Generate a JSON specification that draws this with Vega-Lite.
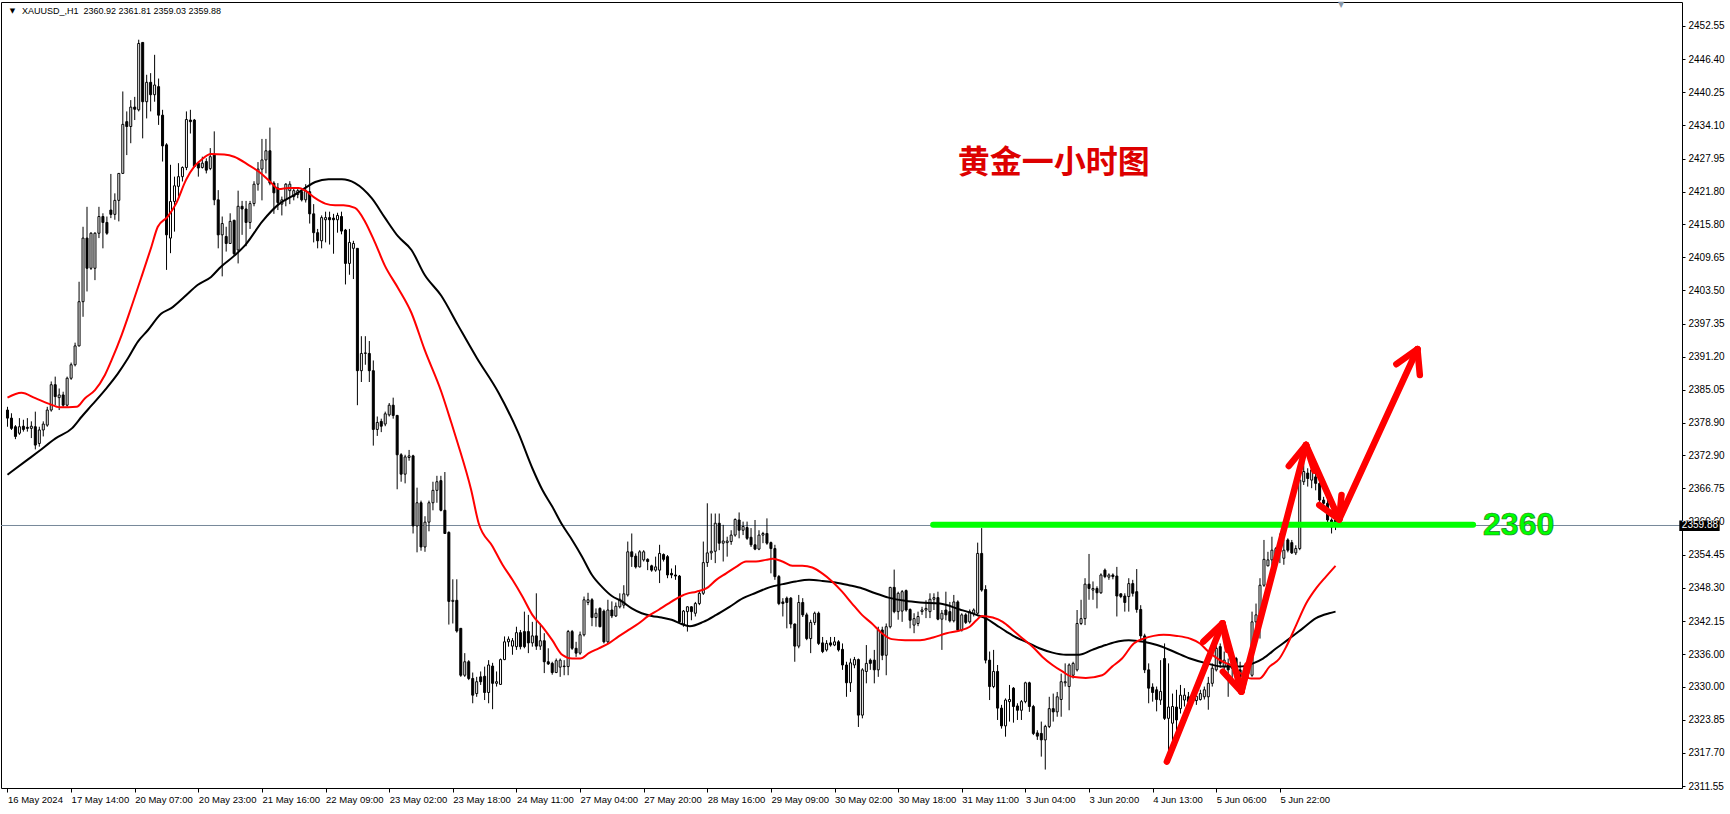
{
"$schema":"https://vega.github.io/schema/vega-lite/v6.json",
"width":1681,"height":786,
"autosize":{"type":"none"},
"padding":{"left":1,"top":2,"right":48,"bottom":26},
"background":"#ffffff",
"config":{"view":{"stroke":"#000000","strokeWidth":1},
"axis":{"labelFont":"Liberation Sans","labelColor":"#000000","tickColor":"#000000","domain":false,"grid":false}},
"resolve":{"axis":{"x":"independent","y":"independent"}},
"datasets":{
"candles":[
{"b":0,"o":2381.3,"h":2381.9,"l":2378.2,"c":2379.8},
{"b":1,"o":2379.8,"h":2380.7,"l":2377.6,"c":2377.9},
{"b":2,"o":2378.2,"h":2378.5,"l":2375.9,"c":2376.4},
{"b":3,"o":2377.0,"h":2379.8,"l":2376.7,"c":2378.2},
{"b":4,"o":2378.3,"h":2379.5,"l":2377.3,"c":2377.7},
{"b":5,"o":2378.1,"h":2379.8,"l":2377.3,"c":2377.9},
{"b":6,"o":2377.9,"h":2379.2,"l":2376.1,"c":2378.3},
{"b":7,"o":2378.2,"h":2381.0,"l":2374.0,"c":2374.8},
{"b":8,"o":2375.1,"h":2378.2,"l":2374.5,"c":2377.6},
{"b":9,"o":2377.6,"h":2379.2,"l":2376.4,"c":2378.7},
{"b":10,"o":2378.5,"h":2381.9,"l":2378.2,"c":2381.3},
{"b":11,"o":2381.3,"h":2386.6,"l":2381.0,"c":2386.0},
{"b":12,"o":2386.0,"h":2387.5,"l":2382.2,"c":2383.8},
{"b":13,"o":2383.6,"h":2385.3,"l":2381.3,"c":2384.1},
{"b":14,"o":2384.1,"h":2384.7,"l":2381.9,"c":2382.2},
{"b":15,"o":2382.2,"h":2387.5,"l":2381.9,"c":2387.2},
{"b":16,"o":2387.2,"h":2390.1,"l":2386.9,"c":2389.7},
{"b":17,"o":2389.7,"h":2393.8,"l":2389.4,"c":2393.2},
{"b":18,"o":2393.2,"h":2405.1,"l":2393.1,"c":2401.4},
{"b":19,"o":2401.4,"h":2415.3,"l":2398.6,"c":2413.2},
{"b":20,"o":2413.2,"h":2419.0,"l":2403.3,"c":2407.6},
{"b":21,"o":2407.6,"h":2414.3,"l":2407.3,"c":2414.1},
{"b":22,"o":2407.6,"h":2414.3,"l":2405.4,"c":2414.1},
{"b":23,"o":2414.1,"h":2419.0,"l":2413.2,"c":2417.2},
{"b":24,"o":2417.2,"h":2417.8,"l":2411.3,"c":2416.1},
{"b":25,"o":2416.1,"h":2417.2,"l":2413.8,"c":2414.1},
{"b":26,"o":2418.4,"h":2425.1,"l":2416.9,"c":2417.6},
{"b":27,"o":2417.6,"h":2421.5,"l":2416.6,"c":2420.2},
{"b":28,"o":2420.2,"h":2425.2,"l":2416.3,"c":2425.2},
{"b":29,"o":2425.2,"h":2440.4,"l":2425.2,"c":2434.3},
{"b":30,"o":2434.8,"h":2436.7,"l":2428.6,"c":2433.9},
{"b":31,"o":2433.9,"h":2438.8,"l":2430.8,"c":2437.5},
{"b":32,"o":2437.5,"h":2439.4,"l":2435.1,"c":2437.1},
{"b":33,"o":2437.0,"h":2450.0,"l":2436.7,"c":2449.3},
{"b":34,"o":2449.5,"h":2449.5,"l":2431.7,"c":2438.5},
{"b":35,"o":2438.5,"h":2443.5,"l":2435.4,"c":2442.1},
{"b":36,"o":2442.1,"h":2443.8,"l":2436.7,"c":2439.8},
{"b":37,"o":2439.8,"h":2447.2,"l":2438.5,"c":2441.6},
{"b":38,"o":2441.3,"h":2442.8,"l":2434.2,"c":2436.0},
{"b":39,"o":2436.0,"h":2437.0,"l":2427.4,"c":2430.3},
{"b":40,"o":2430.5,"h":2430.8,"l":2407.3,"c":2413.8},
{"b":41,"o":2413.2,"h":2426.8,"l":2410.4,"c":2420.0},
{"b":42,"o":2420.0,"h":2424.6,"l":2414.4,"c":2422.9},
{"b":43,"o":2422.8,"h":2427.1,"l":2420.9,"c":2424.6},
{"b":44,"o":2424.6,"h":2426.5,"l":2423.7,"c":2426.3},
{"b":45,"o":2426.3,"h":2436.7,"l":2425.8,"c":2435.2},
{"b":46,"o":2435.1,"h":2437.0,"l":2432.6,"c":2434.8},
{"b":47,"o":2435.1,"h":2435.3,"l":2426.3,"c":2426.5},
{"b":48,"o":2427.1,"h":2427.4,"l":2424.6,"c":2426.2},
{"b":49,"o":2426.3,"h":2428.3,"l":2426.1,"c":2427.1},
{"b":50,"o":2427.4,"h":2428.0,"l":2425.2,"c":2425.8},
{"b":51,"o":2426.1,"h":2429.9,"l":2425.8,"c":2428.3},
{"b":52,"o":2428.6,"h":2433.0,"l":2419.3,"c":2420.3},
{"b":53,"o":2420.3,"h":2422.1,"l":2411.3,"c":2413.8},
{"b":54,"o":2413.8,"h":2417.2,"l":2406.1,"c":2415.9},
{"b":55,"o":2413.5,"h":2415.3,"l":2410.7,"c":2412.2},
{"b":56,"o":2412.2,"h":2417.8,"l":2412.2,"c":2416.3},
{"b":57,"o":2416.5,"h":2416.6,"l":2409.9,"c":2410.3},
{"b":58,"o":2411.0,"h":2422.0,"l":2408.5,"c":2419.1},
{"b":59,"o":2419.1,"h":2420.1,"l":2413.8,"c":2418.6},
{"b":60,"o":2418.6,"h":2420.1,"l":2411.7,"c":2416.1},
{"b":61,"o":2416.1,"h":2420.1,"l":2414.9,"c":2419.6},
{"b":62,"o":2419.6,"h":2423.75,"l":2419.1,"c":2423.2},
{"b":63,"o":2423.2,"h":2427.3,"l":2422.0,"c":2426.0},
{"b":64,"o":2426.0,"h":2431.6,"l":2420.2,"c":2427.7},
{"b":65,"o":2427.7,"h":2431.6,"l":2425.2,"c":2429.4},
{"b":66,"o":2429.4,"h":2433.7,"l":2423.0,"c":2423.4},
{"b":67,"o":2423.4,"h":2423.75,"l":2417.7,"c":2421.6},
{"b":68,"o":2422.5,"h":2423.4,"l":2418.4,"c":2419.8},
{"b":69,"o":2419.5,"h":2420.9,"l":2417.4,"c":2420.3},
{"b":70,"o":2420.3,"h":2423.4,"l":2419.1,"c":2423.2},
{"b":71,"o":2422.0,"h":2423.75,"l":2419.5,"c":2423.2},
{"b":72,"o":2420.9,"h":2422.5,"l":2420.2,"c":2422.0},
{"b":73,"o":2421.3,"h":2422.3,"l":2420.6,"c":2422.0},
{"b":74,"o":2421.8,"h":2422.3,"l":2420.0,"c":2420.3},
{"b":75,"o":2420.3,"h":2423.2,"l":2419.8,"c":2422.0},
{"b":76,"o":2421.8,"h":2426.2,"l":2415.9,"c":2417.7},
{"b":77,"o":2417.7,"h":2419.5,"l":2412.4,"c":2414.2},
{"b":78,"o":2414.2,"h":2414.9,"l":2411.3,"c":2412.7},
{"b":79,"o":2412.7,"h":2417.4,"l":2411.3,"c":2417.0},
{"b":80,"o":2416.6,"h":2418.1,"l":2412.4,"c":2417.0},
{"b":81,"o":2417.0,"h":2418.1,"l":2412.0,"c":2416.6},
{"b":82,"o":2416.9,"h":2417.7,"l":2410.3,"c":2416.6},
{"b":83,"o":2416.6,"h":2417.9,"l":2414.2,"c":2417.4},
{"b":84,"o":2417.2,"h":2418.1,"l":2413.9,"c":2414.5},
{"b":85,"o":2414.7,"h":2414.9,"l":2404.6,"c":2408.5},
{"b":86,"o":2408.5,"h":2414.9,"l":2406.4,"c":2412.4},
{"b":87,"o":2411.3,"h":2412.7,"l":2405.6,"c":2412.2},
{"b":88,"o":2411.3,"h":2411.3,"l":2382.2,"c":2388.6},
{"b":89,"o":2388.6,"h":2395.0,"l":2386.5,"c":2391.8},
{"b":90,"o":2391.8,"h":2395.0,"l":2389.7,"c":2391.9},
{"b":91,"o":2391.8,"h":2394.1,"l":2386.5,"c":2388.6},
{"b":92,"o":2388.6,"h":2390.5,"l":2374.7,"c":2377.7},
{"b":93,"o":2377.7,"h":2380.1,"l":2376.5,"c":2379.0},
{"b":94,"o":2379.2,"h":2379.7,"l":2377.2,"c":2378.3},
{"b":95,"o":2378.7,"h":2381.0,"l":2378.3,"c":2380.6},
{"b":96,"o":2380.4,"h":2382.6,"l":2380.1,"c":2382.2},
{"b":97,"o":2382.2,"h":2383.6,"l":2379.7,"c":2380.3},
{"b":98,"o":2380.3,"h":2380.4,"l":2366.6,"c":2373.0},
{"b":99,"o":2373.0,"h":2373.3,"l":2368.0,"c":2369.4},
{"b":100,"o":2369.4,"h":2373.0,"l":2367.7,"c":2372.6},
{"b":101,"o":2372.5,"h":2373.9,"l":2371.9,"c":2372.8},
{"b":102,"o":2372.8,"h":2373.0,"l":2358.4,"c":2359.8},
{"b":103,"o":2359.8,"h":2366.9,"l":2354.9,"c":2364.1},
{"b":104,"o":2364.1,"h":2364.5,"l":2355.2,"c":2355.9},
{"b":105,"o":2355.9,"h":2361.6,"l":2355.0,"c":2360.5},
{"b":106,"o":2360.5,"h":2364.5,"l":2358.8,"c":2364.1},
{"b":107,"o":2364.1,"h":2368.0,"l":2362.7,"c":2366.4},
{"b":108,"o":2366.4,"h":2369.1,"l":2364.1,"c":2368.0},
{"b":109,"o":2368.2,"h":2369.1,"l":2362.5,"c":2362.7},
{"b":110,"o":2362.7,"h":2369.8,"l":2358.3,"c":2358.4},
{"b":111,"o":2358.6,"h":2358.8,"l":2341.5,"c":2345.8},
{"b":112,"o":2345.8,"h":2349.9,"l":2341.7,"c":2346.0},
{"b":113,"o":2346.0,"h":2349.9,"l":2340.0,"c":2340.3},
{"b":114,"o":2340.8,"h":2340.8,"l":2331.8,"c":2332.1},
{"b":115,"o":2332.1,"h":2336.2,"l":2331.8,"c":2334.6},
{"b":116,"o":2334.6,"h":2334.9,"l":2331.2,"c":2331.5},
{"b":117,"o":2331.5,"h":2332.6,"l":2326.9,"c":2328.4},
{"b":118,"o":2328.7,"h":2331.8,"l":2328.1,"c":2330.9},
{"b":119,"o":2331.8,"h":2332.8,"l":2330.3,"c":2330.9},
{"b":120,"o":2331.9,"h":2333.7,"l":2327.5,"c":2328.9},
{"b":121,"o":2328.9,"h":2334.9,"l":2326.9,"c":2334.0},
{"b":122,"o":2333.8,"h":2334.4,"l":2325.8,"c":2330.6},
{"b":123,"o":2330.6,"h":2332.8,"l":2330.0,"c":2330.9},
{"b":124,"o":2330.4,"h":2335.2,"l":2330.3,"c":2335.0},
{"b":125,"o":2335.0,"h":2339.3,"l":2334.9,"c":2338.3},
{"b":126,"o":2338.3,"h":2339.3,"l":2337.4,"c":2338.8},
{"b":127,"o":2337.5,"h":2339.0,"l":2335.9,"c":2338.5},
{"b":128,"o":2337.4,"h":2341.1,"l":2336.8,"c":2340.0},
{"b":129,"o":2340.0,"h":2340.5,"l":2336.9,"c":2337.4},
{"b":130,"o":2340.2,"h":2343.9,"l":2337.1,"c":2337.4},
{"b":131,"o":2340.2,"h":2343.3,"l":2336.2,"c":2338.1},
{"b":132,"o":2338.1,"h":2342.0,"l":2337.4,"c":2339.4},
{"b":133,"o":2339.4,"h":2347.3,"l":2336.8,"c":2337.5},
{"b":134,"o":2337.5,"h":2341.7,"l":2336.8,"c":2338.5},
{"b":135,"o":2338.5,"h":2339.9,"l":2332.5,"c":2334.6},
{"b":136,"o":2334.6,"h":2337.1,"l":2334.0,"c":2334.2},
{"b":137,"o":2334.3,"h":2334.6,"l":2332.2,"c":2332.6},
{"b":138,"o":2332.6,"h":2335.2,"l":2332.5,"c":2334.8},
{"b":139,"o":2333.6,"h":2335.2,"l":2331.8,"c":2334.9},
{"b":140,"o":2333.8,"h":2334.9,"l":2332.1,"c":2333.7},
{"b":141,"o":2333.7,"h":2340.5,"l":2332.1,"c":2340.2},
{"b":142,"o":2340.2,"h":2340.5,"l":2336.8,"c":2337.1},
{"b":143,"o":2337.1,"h":2338.3,"l":2335.5,"c":2336.2},
{"b":144,"o":2336.2,"h":2340.2,"l":2335.9,"c":2339.6},
{"b":145,"o":2339.6,"h":2346.7,"l":2339.3,"c":2346.1},
{"b":146,"o":2345.6,"h":2347.4,"l":2345.1,"c":2346.1},
{"b":147,"o":2346.1,"h":2346.4,"l":2341.2,"c":2342.8},
{"b":148,"o":2342.8,"h":2344.5,"l":2341.1,"c":2343.6},
{"b":149,"o":2344.5,"h":2344.7,"l":2341.0,"c":2341.1},
{"b":150,"o":2344.0,"h":2344.3,"l":2338.0,"c":2338.3},
{"b":151,"o":2338.3,"h":2346.1,"l":2338.0,"c":2344.2},
{"b":152,"o":2344.2,"h":2345.8,"l":2342.7,"c":2343.1},
{"b":153,"o":2343.1,"h":2345.6,"l":2342.9,"c":2344.9},
{"b":154,"o":2344.8,"h":2347.3,"l":2344.5,"c":2346.2},
{"b":155,"o":2345.1,"h":2348.8,"l":2344.5,"c":2347.2},
{"b":156,"o":2347.0,"h":2356.9,"l":2346.7,"c":2355.0},
{"b":157,"o":2355.0,"h":2358.4,"l":2352.2,"c":2354.1},
{"b":158,"o":2354.2,"h":2354.7,"l":2351.9,"c":2352.2},
{"b":159,"o":2352.2,"h":2355.3,"l":2352.1,"c":2355.0},
{"b":160,"o":2353.5,"h":2355.3,"l":2353.2,"c":2355.0},
{"b":161,"o":2353.6,"h":2353.8,"l":2351.6,"c":2353.2},
{"b":162,"o":2352.4,"h":2352.6,"l":2351.3,"c":2351.6},
{"b":163,"o":2351.6,"h":2354.1,"l":2351.3,"c":2352.2},
{"b":164,"o":2351.6,"h":2356.3,"l":2349.2,"c":2354.7},
{"b":165,"o":2354.5,"h":2354.7,"l":2353.2,"c":2353.6},
{"b":166,"o":2354.1,"h":2354.4,"l":2350.1,"c":2350.7},
{"b":167,"o":2351.0,"h":2351.9,"l":2350.1,"c":2350.7},
{"b":168,"o":2350.7,"h":2352.5,"l":2349.8,"c":2350.5},
{"b":169,"o":2350.5,"h":2350.7,"l":2341.7,"c":2342.0},
{"b":170,"o":2341.6,"h":2344.2,"l":2341.1,"c":2344.0},
{"b":171,"o":2343.9,"h":2344.9,"l":2340.2,"c":2344.8},
{"b":172,"o":2344.8,"h":2344.9,"l":2342.3,"c":2343.9},
{"b":173,"o":2343.6,"h":2345.7,"l":2343.0,"c":2345.4},
{"b":174,"o":2345.4,"h":2347.9,"l":2345.1,"c":2347.3},
{"b":175,"o":2347.3,"h":2356.9,"l":2347.0,"c":2353.0},
{"b":176,"o":2353.0,"h":2364.0,"l":2352.2,"c":2354.8},
{"b":177,"o":2354.8,"h":2362.1,"l":2353.5,"c":2355.1},
{"b":178,"o":2355.1,"h":2362.1,"l":2352.9,"c":2360.3},
{"b":179,"o":2360.3,"h":2362.1,"l":2355.3,"c":2356.6},
{"b":180,"o":2356.6,"h":2360.0,"l":2353.2,"c":2357.0},
{"b":181,"o":2356.7,"h":2357.8,"l":2354.1,"c":2357.0},
{"b":182,"o":2356.9,"h":2359.0,"l":2356.3,"c":2358.1},
{"b":183,"o":2358.1,"h":2361.2,"l":2357.8,"c":2361.0},
{"b":184,"o":2360.9,"h":2362.3,"l":2357.5,"c":2359.0},
{"b":185,"o":2359.0,"h":2360.6,"l":2358.1,"c":2359.7},
{"b":186,"o":2359.5,"h":2360.6,"l":2357.2,"c":2357.5},
{"b":187,"o":2357.7,"h":2359.4,"l":2355.9,"c":2356.3},
{"b":188,"o":2356.3,"h":2360.9,"l":2355.3,"c":2355.5},
{"b":189,"o":2355.5,"h":2359.0,"l":2355.3,"c":2358.1},
{"b":190,"o":2358.1,"h":2358.7,"l":2356.6,"c":2358.4},
{"b":191,"o":2358.4,"h":2361.2,"l":2356.3,"c":2356.6},
{"b":192,"o":2356.7,"h":2356.9,"l":2351.0,"c":2355.6},
{"b":193,"o":2355.6,"h":2356.3,"l":2349.8,"c":2350.4},
{"b":194,"o":2350.4,"h":2350.7,"l":2345.1,"c":2345.4},
{"b":195,"o":2345.7,"h":2346.4,"l":2343.0,"c":2345.4},
{"b":196,"o":2346.4,"h":2346.7,"l":2340.8,"c":2345.6},
{"b":197,"o":2346.4,"h":2346.6,"l":2340.8,"c":2341.6},
{"b":198,"o":2341.6,"h":2341.7,"l":2334.6,"c":2337.5},
{"b":199,"o":2337.5,"h":2347.0,"l":2337.1,"c":2345.6},
{"b":200,"o":2345.6,"h":2346.4,"l":2342.9,"c":2343.3},
{"b":201,"o":2343.3,"h":2343.7,"l":2338.6,"c":2338.9},
{"b":202,"o":2338.9,"h":2342.4,"l":2336.2,"c":2341.9},
{"b":203,"o":2341.9,"h":2343.9,"l":2341.4,"c":2343.6},
{"b":204,"o":2343.6,"h":2343.9,"l":2337.7,"c":2338.0},
{"b":205,"o":2338.1,"h":2339.2,"l":2336.2,"c":2336.5},
{"b":206,"o":2336.8,"h":2338.6,"l":2336.5,"c":2338.0},
{"b":207,"o":2338.1,"h":2339.2,"l":2337.4,"c":2337.7},
{"b":208,"o":2337.7,"h":2339.2,"l":2337.5,"c":2338.3},
{"b":209,"o":2338.3,"h":2338.6,"l":2336.5,"c":2336.8},
{"b":210,"o":2336.9,"h":2338.0,"l":2333.1,"c":2334.0},
{"b":211,"o":2334.0,"h":2334.6,"l":2328.1,"c":2330.7},
{"b":212,"o":2330.7,"h":2335.2,"l":2329.0,"c":2334.4},
{"b":213,"o":2334.0,"h":2335.5,"l":2333.4,"c":2335.0},
{"b":214,"o":2335.0,"h":2335.2,"l":2322.5,"c":2324.7},
{"b":215,"o":2324.7,"h":2333.4,"l":2324.1,"c":2333.1},
{"b":216,"o":2332.8,"h":2337.7,"l":2330.6,"c":2334.3},
{"b":217,"o":2334.9,"h":2335.2,"l":2333.1,"c":2334.3},
{"b":218,"o":2334.9,"h":2336.8,"l":2330.6,"c":2333.1},
{"b":219,"o":2333.1,"h":2341.1,"l":2331.8,"c":2340.5},
{"b":220,"o":2340.5,"h":2341.1,"l":2334.9,"c":2335.8},
{"b":221,"o":2335.8,"h":2341.7,"l":2332.1,"c":2341.1},
{"b":222,"o":2341.1,"h":2348.5,"l":2340.8,"c":2348.4},
{"b":223,"o":2348.4,"h":2351.7,"l":2343.6,"c":2343.9},
{"b":224,"o":2343.9,"h":2347.6,"l":2342.4,"c":2347.3},
{"b":225,"o":2344.0,"h":2347.9,"l":2342.0,"c":2347.6},
{"b":226,"o":2347.8,"h":2348.0,"l":2343.9,"c":2344.2},
{"b":227,"o":2344.3,"h":2344.5,"l":2340.8,"c":2342.3},
{"b":228,"o":2341.4,"h":2343.6,"l":2339.9,"c":2342.6},
{"b":229,"o":2341.7,"h":2343.9,"l":2341.2,"c":2343.0},
{"b":230,"o":2343.9,"h":2344.8,"l":2343.3,"c":2344.2},
{"b":231,"o":2344.2,"h":2346.0,"l":2342.7,"c":2344.5},
{"b":232,"o":2343.9,"h":2347.3,"l":2342.7,"c":2346.2},
{"b":233,"o":2346.2,"h":2347.3,"l":2344.2,"c":2346.5},
{"b":234,"o":2346.5,"h":2347.6,"l":2342.3,"c":2342.5},
{"b":235,"o":2342.5,"h":2344.2,"l":2336.8,"c":2343.6},
{"b":236,"o":2344.2,"h":2347.6,"l":2342.3,"c":2343.3},
{"b":237,"o":2343.9,"h":2345.7,"l":2341.9,"c":2342.2},
{"b":238,"o":2342.2,"h":2347.0,"l":2341.9,"c":2345.7},
{"b":239,"o":2345.7,"h":2346.0,"l":2340.2,"c":2340.5},
{"b":240,"o":2340.5,"h":2343.6,"l":2340.2,"c":2343.3},
{"b":241,"o":2343.3,"h":2343.6,"l":2341.6,"c":2341.9},
{"b":242,"o":2342.0,"h":2344.3,"l":2341.7,"c":2343.9},
{"b":243,"o":2343.6,"h":2344.5,"l":2343.0,"c":2344.2},
{"b":244,"o":2343.6,"h":2356.7,"l":2343.3,"c":2354.7},
{"b":245,"o":2354.7,"h":2359.4,"l":2347.6,"c":2347.9},
{"b":246,"o":2348.0,"h":2348.8,"l":2334.3,"c":2334.9},
{"b":247,"o":2334.9,"h":2336.5,"l":2327.5,"c":2330.0},
{"b":248,"o":2330.0,"h":2336.8,"l":2329.7,"c":2332.8},
{"b":249,"o":2332.8,"h":2334.0,"l":2323.8,"c":2326.0},
{"b":250,"o":2326.0,"h":2326.6,"l":2322.2,"c":2322.7},
{"b":251,"o":2322.7,"h":2327.8,"l":2320.7,"c":2327.5},
{"b":252,"o":2327.2,"h":2330.3,"l":2323.5,"c":2327.6},
{"b":253,"o":2329.7,"h":2329.9,"l":2323.3,"c":2326.3},
{"b":254,"o":2326.4,"h":2326.9,"l":2323.8,"c":2325.6},
{"b":255,"o":2325.6,"h":2327.5,"l":2323.8,"c":2327.2},
{"b":256,"o":2327.2,"h":2330.9,"l":2326.9,"c":2330.7},
{"b":257,"o":2330.7,"h":2330.9,"l":2325.3,"c":2326.3},
{"b":258,"o":2326.3,"h":2326.6,"l":2321.0,"c":2321.3},
{"b":259,"o":2321.4,"h":2321.9,"l":2320.1,"c":2320.8},
{"b":260,"o":2321.3,"h":2323.5,"l":2317.0,"c":2320.1},
{"b":261,"o":2320.1,"h":2322.9,"l":2314.6,"c":2322.6},
{"b":262,"o":2322.6,"h":2328.1,"l":2322.3,"c":2325.9},
{"b":263,"o":2325.9,"h":2328.7,"l":2323.5,"c":2325.3},
{"b":264,"o":2325.3,"h":2329.0,"l":2324.4,"c":2328.1},
{"b":265,"o":2327.6,"h":2332.4,"l":2324.4,"c":2330.9},
{"b":266,"o":2330.7,"h":2334.3,"l":2330.0,"c":2330.9},
{"b":267,"o":2330.0,"h":2334.3,"l":2325.6,"c":2334.0},
{"b":268,"o":2332.1,"h":2334.6,"l":2331.5,"c":2334.3},
{"b":269,"o":2333.1,"h":2344.2,"l":2332.8,"c":2341.7},
{"b":270,"o":2341.7,"h":2346.1,"l":2341.4,"c":2342.6},
{"b":271,"o":2342.6,"h":2350.1,"l":2341.4,"c":2349.0},
{"b":272,"o":2349.0,"h":2354.6,"l":2346.1,"c":2348.2},
{"b":273,"o":2347.9,"h":2349.5,"l":2346.1,"c":2348.2},
{"b":274,"o":2348.2,"h":2348.6,"l":2344.5,"c":2347.4},
{"b":275,"o":2347.4,"h":2351.0,"l":2347.2,"c":2350.7},
{"b":276,"o":2351.6,"h":2351.9,"l":2350.1,"c":2350.4},
{"b":277,"o":2350.3,"h":2351.0,"l":2349.8,"c":2350.7},
{"b":278,"o":2350.7,"h":2351.0,"l":2349.9,"c":2350.4},
{"b":279,"o":2350.5,"h":2352.2,"l":2343.0,"c":2346.8},
{"b":280,"o":2347.2,"h":2347.3,"l":2346.4,"c":2346.7},
{"b":281,"o":2346.8,"h":2347.3,"l":2343.9,"c":2345.6},
{"b":282,"o":2346.7,"h":2350.1,"l":2343.9,"c":2349.1},
{"b":283,"o":2349.1,"h":2349.8,"l":2346.7,"c":2347.3},
{"b":284,"o":2347.6,"h":2351.8,"l":2343.7,"c":2344.3},
{"b":285,"o":2344.3,"h":2345.1,"l":2338.6,"c":2339.4},
{"b":286,"o":2339.4,"h":2339.8,"l":2332.5,"c":2333.1},
{"b":287,"o":2333.1,"h":2334.3,"l":2326.9,"c":2329.7},
{"b":288,"o":2329.9,"h":2330.6,"l":2327.2,"c":2328.9},
{"b":289,"o":2329.4,"h":2330.0,"l":2325.4,"c":2327.6},
{"b":290,"o":2327.5,"h":2334.9,"l":2326.6,"c":2329.1},
{"b":291,"o":2335.2,"h":2338.0,"l":2323.8,"c":2324.1},
{"b":292,"o":2324.1,"h":2334.3,"l":2317.3,"c":2326.2},
{"b":293,"o":2323.2,"h":2328.7,"l":2318.2,"c":2326.3},
{"b":294,"o":2326.2,"h":2329.4,"l":2321.9,"c":2323.8},
{"b":295,"o":2325.9,"h":2330.3,"l":2325.0,"c":2328.4},
{"b":296,"o":2327.5,"h":2329.7,"l":2326.3,"c":2328.4},
{"b":297,"o":2328.1,"h":2329.0,"l":2326.9,"c":2327.2},
{"b":298,"o":2328.1,"h":2328.7,"l":2327.2,"c":2327.5},
{"b":299,"o":2327.4,"h":2329.7,"l":2326.6,"c":2328.2},
{"b":300,"o":2327.6,"h":2329.4,"l":2327.4,"c":2328.7},
{"b":301,"o":2328.1,"h":2330.0,"l":2327.6,"c":2329.4},
{"b":302,"o":2328.1,"h":2331.8,"l":2325.7,"c":2330.6},
{"b":303,"o":2330.6,"h":2334.3,"l":2330.0,"c":2333.4},
{"b":304,"o":2333.1,"h":2337.7,"l":2332.8,"c":2337.1},
{"b":305,"o":2337.4,"h":2338.0,"l":2333.5,"c":2334.3},
{"b":306,"o":2333.7,"h":2336.5,"l":2333.0,"c":2334.9},
{"b":307,"o":2334.3,"h":2335.2,"l":2328.1,"c":2333.1},
{"b":308,"o":2333.4,"h":2335.2,"l":2330.6,"c":2334.3},
{"b":309,"o":2335.2,"h":2335.5,"l":2330.3,"c":2333.1},
{"b":310,"o":2333.1,"h":2334.6,"l":2329.7,"c":2331.8},
{"b":311,"o":2331.8,"h":2333.7,"l":2330.0,"c":2333.0},
{"b":312,"o":2332.4,"h":2335.2,"l":2331.5,"c":2334.3},
{"b":313,"o":2332.1,"h":2343.9,"l":2331.8,"c":2342.0},
{"b":314,"o":2342.0,"h":2345.4,"l":2337.7,"c":2343.3},
{"b":315,"o":2343.3,"h":2350.1,"l":2338.9,"c":2348.8},
{"b":316,"o":2348.8,"h":2357.2,"l":2348.5,"c":2353.6},
{"b":317,"o":2352.4,"h":2355.0,"l":2352.3,"c":2353.5},
{"b":318,"o":2353.5,"h":2357.8,"l":2352.4,"c":2355.3},
{"b":319,"o":2354.1,"h":2355.9,"l":2353.5,"c":2355.6},
{"b":320,"o":2355.0,"h":2358.4,"l":2352.9,"c":2357.2},
{"b":321,"o":2353.8,"h":2357.3,"l":2352.6,"c":2355.3},
{"b":322,"o":2357.2,"h":2357.5,"l":2354.9,"c":2355.3},
{"b":323,"o":2356.7,"h":2357.2,"l":2354.6,"c":2354.8},
{"b":324,"o":2354.8,"h":2356.2,"l":2354.4,"c":2355.6},
{"b":325,"o":2355.6,"h":2368.9,"l":2355.3,"c":2368.3},
{"b":326,"o":2368.0,"h":2371.6,"l":2367.4,"c":2369.9},
{"b":327,"o":2369.6,"h":2370.5,"l":2367.1,"c":2368.6},
{"b":328,"o":2368.3,"h":2370.5,"l":2366.8,"c":2370.2},
{"b":329,"o":2368.9,"h":2370.0,"l":2366.4,"c":2367.7},
{"b":330,"o":2367.7,"h":2368.3,"l":2363.8,"c":2364.6},
{"b":331,"o":2364.6,"h":2365.2,"l":2362.9,"c":2364.0},
{"b":332,"o":2364.0,"h":2364.6,"l":2359.6,"c":2360.9},
{"b":333,"o":2360.9,"h":2361.2,"l":2358.4,"c":2359.6},
{"b":334,"o":2360.92,"h":2361.81,"l":2359.03,"c":2359.88}
],
"ma":[
{"s":"k","b":0,"v":2369.3},{"s":"k","b":4.9,"v":2372.0},{"s":"k","b":7.8,"v":2373.6},{"s":"k","b":12,"v":2376.0},{"s":"k","b":16.2,"v":2377.9},{"s":"k","b":18.7,"v":2380.1},{"s":"k","b":21.2,"v":2382.2},{"s":"k","b":24.5,"v":2385.0},{"s":"k","b":27.8,"v":2388.1},{"s":"k","b":30.3,"v":2390.9},{"s":"k","b":32.8,"v":2394.0},{"s":"k","b":35.3,"v":2396.1},{"s":"k","b":38.7,"v":2399.2},{"s":"k","b":41.2,"v":2400.2},{"s":"k","b":44.5,"v":2402.3},{"s":"k","b":47.8,"v":2404.5},{"s":"k","b":51.2,"v":2406.0},{"s":"k","b":53.7,"v":2407.9},{"s":"k","b":57,"v":2409.9},{"s":"k","b":59.9,"v":2412.0},{"s":"k","b":64.1,"v":2416.3},{"s":"k","b":68.25,"v":2419.5},{"s":"k","b":72.4,"v":2421.3},{"s":"k","b":74.9,"v":2422.5},{"s":"k","b":77.4,"v":2423.6},{"s":"k","b":80.75,"v":2424.1},{"s":"k","b":84.1,"v":2424.1},{"s":"k","b":87.4,"v":2423.4},{"s":"k","b":91.6,"v":2420.6},{"s":"k","b":94.9,"v":2417.0},{"s":"k","b":98.25,"v":2413.5},{"s":"k","b":101.6,"v":2411.0},{"s":"k","b":104.9,"v":2406.4},{"s":"k","b":109.1,"v":2402.5},{"s":"k","b":113.25,"v":2397.1},{"s":"k","b":118,"v":2391.0},{"s":"k","b":123.5,"v":2384.5},{"s":"k","b":128.5,"v":2377.0},{"s":"k","b":132,"v":2370.5},{"s":"k","b":134.5,"v":2366.5},{"s":"k","b":137,"v":2363.4},{"s":"k","b":139.5,"v":2360.0},{"s":"k","b":142,"v":2357.2},{"s":"k","b":144.5,"v":2354.1},{"s":"k","b":147,"v":2350.7},{"s":"k","b":149.5,"v":2348.5},{"s":"k","b":152,"v":2346.8},{"s":"k","b":154.5,"v":2345.8},{"s":"k","b":157,"v":2344.5},{"s":"k","b":159.5,"v":2343.6},{"s":"k","b":162,"v":2343.1},{"s":"k","b":164.5,"v":2342.8},{"s":"k","b":167,"v":2342.4},{"s":"k","b":169.5,"v":2341.6},{"s":"k","b":171.6,"v":2341.2},{"s":"k","b":175,"v":2342.0},{"s":"k","b":178.25,"v":2343.3},{"s":"k","b":181.6,"v":2344.8},{"s":"k","b":185,"v":2346.4},{"s":"k","b":188.25,"v":2347.4},{"s":"k","b":191.6,"v":2348.4},{"s":"k","b":195,"v":2349.0},{"s":"k","b":198.25,"v":2349.5},{"s":"k","b":201.6,"v":2349.8},{"s":"k","b":205,"v":2349.6},{"s":"k","b":208.25,"v":2349.3},{"s":"k","b":211.6,"v":2348.8},{"s":"k","b":215,"v":2348.2},{"s":"k","b":218.25,"v":2347.3},{"s":"k","b":221.6,"v":2346.5},{"s":"k","b":225.75,"v":2345.9},{"s":"k","b":229.5,"v":2345.6},{"s":"k","b":234.5,"v":2345.4},{"s":"k","b":239.5,"v":2344.3},{"s":"k","b":243.7,"v":2343.3},{"s":"k","b":246.2,"v":2342.6},{"s":"k","b":248.7,"v":2341.4},{"s":"k","b":251.2,"v":2340.2},{"s":"k","b":253.7,"v":2339.1},{"s":"k","b":256.2,"v":2338.3},{"s":"k","b":259.5,"v":2337.1},{"s":"k","b":262.8,"v":2336.3},{"s":"k","b":266.2,"v":2335.9},{"s":"k","b":269.5,"v":2335.9},{"s":"k","b":272.8,"v":2336.8},{"s":"k","b":276.2,"v":2337.7},{"s":"k","b":279.5,"v":2338.4},{"s":"k","b":282,"v":2338.6},{"s":"k","b":285.75,"v":2338.3},{"s":"k","b":289.1,"v":2337.7},{"s":"k","b":293.25,"v":2336.5},{"s":"k","b":297.4,"v":2335.2},{"s":"k","b":301.6,"v":2334.3},{"s":"k","b":305.75,"v":2333.7},{"s":"k","b":309.9,"v":2333.7},{"s":"k","b":313.25,"v":2334.3},{"s":"k","b":315.75,"v":2335.2},{"s":"k","b":319.1,"v":2337.1},{"s":"k","b":322.4,"v":2338.9},{"s":"k","b":325.75,"v":2340.8},{"s":"k","b":329.1,"v":2342.7},{"s":"k","b":332.4,"v":2343.6},{"s":"k","b":334,"v":2343.9},
{"s":"r","b":0,"v":2383.6},{"s":"r","b":3.5,"v":2384.5},{"s":"r","b":7,"v":2383.5},{"s":"r","b":10.3,"v":2382.5},{"s":"r","b":13.25,"v":2381.8},{"s":"r","b":17.4,"v":2381.9},{"s":"r","b":19.5,"v":2383.5},{"s":"r","b":22,"v":2385.0},{"s":"r","b":24.5,"v":2387.8},{"s":"r","b":26.2,"v":2390.6},{"s":"r","b":28.7,"v":2395.2},{"s":"r","b":31.2,"v":2400.5},{"s":"r","b":33.7,"v":2406.0},{"s":"r","b":36.2,"v":2411.6},{"s":"r","b":37.8,"v":2415.3},{"s":"r","b":40.3,"v":2417.2},{"s":"r","b":42.4,"v":2419.6},{"s":"r","b":44.9,"v":2424.0},{"s":"r","b":47,"v":2426.5},{"s":"r","b":48.7,"v":2427.7},{"s":"r","b":51.2,"v":2428.8},{"s":"r","b":54.5,"v":2428.7},{"s":"r","b":57,"v":2428.3},{"s":"r","b":60.75,"v":2426.7},{"s":"r","b":63.25,"v":2425.5},{"s":"r","b":65.75,"v":2423.9},{"s":"r","b":68.25,"v":2422.3},{"s":"r","b":70.75,"v":2422.5},{"s":"r","b":73.25,"v":2422.5},{"s":"r","b":74.9,"v":2422.0},{"s":"r","b":77.4,"v":2420.6},{"s":"r","b":79.9,"v":2419.6},{"s":"r","b":82.4,"v":2419.3},{"s":"r","b":84.5,"v":2419.3},{"s":"r","b":87.4,"v":2418.8},{"s":"r","b":89.9,"v":2416.3},{"s":"r","b":92.4,"v":2412.4},{"s":"r","b":94.9,"v":2408.1},{"s":"r","b":98.25,"v":2403.9},{"s":"r","b":101.6,"v":2399.3},{"s":"r","b":104.9,"v":2392.5},{"s":"r","b":109.1,"v":2384.7},{"s":"r","b":111.6,"v":2379.0},{"s":"r","b":113.25,"v":2375.1},{"s":"r","b":116.6,"v":2366.5},{"s":"r","b":118.5,"v":2360.3},{"s":"r","b":122,"v":2356.0},{"s":"r","b":124.5,"v":2352.6},{"s":"r","b":127,"v":2349.8},{"s":"r","b":129.5,"v":2346.7},{"s":"r","b":132,"v":2343.3},{"s":"r","b":134.5,"v":2341.1},{"s":"r","b":137,"v":2338.6},{"s":"r","b":139.5,"v":2335.9},{"s":"r","b":142,"v":2335.2},{"s":"r","b":144.1,"v":2335.2},{"s":"r","b":146.2,"v":2336.2},{"s":"r","b":148.7,"v":2337.1},{"s":"r","b":151.2,"v":2338.0},{"s":"r","b":153.7,"v":2339.3},{"s":"r","b":156.2,"v":2340.5},{"s":"r","b":158.7,"v":2341.7},{"s":"r","b":161.2,"v":2343.1},{"s":"r","b":163.7,"v":2344.2},{"s":"r","b":166.2,"v":2345.4},{"s":"r","b":169.5,"v":2346.8},{"s":"r","b":170.75,"v":2347.2},{"s":"r","b":173.25,"v":2347.6},{"s":"r","b":175.75,"v":2348.2},{"s":"r","b":178.25,"v":2349.8},{"s":"r","b":180.75,"v":2351.0},{"s":"r","b":183.25,"v":2352.2},{"s":"r","b":185.75,"v":2353.2},{"s":"r","b":188.25,"v":2353.2},{"s":"r","b":190.75,"v":2353.5},{"s":"r","b":192.4,"v":2353.7},{"s":"r","b":194.9,"v":2353.2},{"s":"r","b":197.4,"v":2352.4},{"s":"r","b":199.9,"v":2352.4},{"s":"r","b":202.4,"v":2352.1},{"s":"r","b":204.9,"v":2351.0},{"s":"r","b":207.4,"v":2349.5},{"s":"r","b":209.9,"v":2347.6},{"s":"r","b":212.4,"v":2345.4},{"s":"r","b":214.9,"v":2343.3},{"s":"r","b":217.4,"v":2341.7},{"s":"r","b":219.9,"v":2339.9},{"s":"r","b":222.4,"v":2338.8},{"s":"r","b":225.75,"v":2338.6},{"s":"r","b":229.5,"v":2338.6},{"s":"r","b":232.8,"v":2339.1},{"s":"r","b":236.2,"v":2339.9},{"s":"r","b":239.5,"v":2340.4},{"s":"r","b":242,"v":2341.1},{"s":"r","b":243.7,"v":2342.3},{"s":"r","b":245,"v":2343.1},{"s":"r","b":247.8,"v":2342.8},{"s":"r","b":250.3,"v":2342.0},{"s":"r","b":252.8,"v":2340.5},{"s":"r","b":255.3,"v":2338.9},{"s":"r","b":257.8,"v":2337.4},{"s":"r","b":260.3,"v":2335.5},{"s":"r","b":262.8,"v":2334.0},{"s":"r","b":265.3,"v":2332.8},{"s":"r","b":267.8,"v":2331.8},{"s":"r","b":271.2,"v":2331.6},{"s":"r","b":275.3,"v":2332.1},{"s":"r","b":277.8,"v":2333.7},{"s":"r","b":280.3,"v":2335.2},{"s":"r","b":283.25,"v":2338.0},{"s":"r","b":285.75,"v":2338.9},{"s":"r","b":288.25,"v":2339.4},{"s":"r","b":290.75,"v":2339.6},{"s":"r","b":294.1,"v":2339.4},{"s":"r","b":297.4,"v":2338.9},{"s":"r","b":299.9,"v":2338.0},{"s":"r","b":302,"v":2336.5},{"s":"r","b":304.9,"v":2334.9},{"s":"r","b":308.25,"v":2333.7},{"s":"r","b":310.75,"v":2332.1},{"s":"r","b":312.8,"v":2331.5},{"s":"r","b":314.9,"v":2331.5},{"s":"r","b":317.4,"v":2333.7},{"s":"r","b":319.9,"v":2335.2},{"s":"r","b":321.6,"v":2337.4},{"s":"r","b":324.1,"v":2341.4},{"s":"r","b":326.6,"v":2345.4},{"s":"r","b":329.1,"v":2348.2},{"s":"r","b":331.6,"v":2350.4},{"s":"r","b":334,"v":2352.4}
],
"arrows":[
{"x1":291.58,"y1":2316.07,"x2":305.58,"y2":2341.73},
{"x1":305.58,"y1":2341.73,"x2":300.75,"y2":2338.33},
{"x1":305.58,"y1":2341.73,"x2":306.92,"y2":2336.78},
{"x1":305.58,"y1":2341.73,"x2":310.33,"y2":2329.05},
{"x1":310.33,"y1":2329.05,"x2":305.67,"y2":2332.77},
{"x1":310.33,"y1":2329.05,"x2":311.75,"y2":2333.94},
{"x1":310.33,"y1":2329.05,"x2":326.58,"y2":2374.82},
{"x1":326.58,"y1":2374.82,"x2":322.25,"y2":2370.92},
{"x1":326.58,"y1":2374.82,"x2":328.67,"y2":2370.05},
{"x1":326.58,"y1":2374.82,"x2":334.92,"y2":2361.02},
{"x1":334.92,"y1":2361.02,"x2":329.92,"y2":2363.68},
{"x1":334.92,"y1":2361.02,"x2":335.5,"y2":2365.54},
{"x1":334.92,"y1":2361.02,"x2":354.6,"y2":2392.6},
{"x1":354.6,"y1":2392.6,"x2":349.3,"y2":2389.8},
{"x1":354.6,"y1":2392.6,"x2":355.2,"y2":2387.8}
]
},
"layer":[
{"data":{"values":[{"p":2359.88}]},
 "mark":{"type":"rule","stroke":"#778899","strokeWidth":1},
 "encoding":{"y":{"field":"p","type":"quantitative","scale":{"domain":[2311.18,2457.0],"nice":false,"zero":false},"axis":null}}},
{"data":{"name":"candles"},
 "mark":{"type":"rule","stroke":"#000000","strokeWidth":1},
 "encoding":{
  "x":{"field":"b","type":"quantitative","title":null,"scale":{"domain":[-0.375,419.875],"nice":false,"zero":false},
   "axis":{"orient":"bottom","title":null,"zindex":0,"labelFontSize":9.5,"values":[0,16,32,48,64,80,96,112,128,144,160,176,192,208,224,240,256,272,288,304,320],
    "labelExpr":"['16 May 2024','17 May 14:00','20 May 07:00','20 May 23:00','21 May 16:00','22 May 09:00','23 May 02:00','23 May 18:00','24 May 11:00','27 May 04:00','27 May 20:00','28 May 16:00','29 May 09:00','30 May 02:00','30 May 18:00','31 May 11:00','3 Jun 04:00','3 Jun 20:00','4 Jun 13:00','5 Jun 06:00','5 Jun 22:00'][floor(datum.value/16+0.5)]",
    "labelAlign":"left","labelBaseline":"top","labelPadding":2,"tickSize":4,"labelOverlap":false,"labelFlush":false,"labelBound":false}},
  "y":{"field":"l","type":"quantitative","title":null,"scale":{"domain":[2311.18,2457.0],"nice":false,"zero":false},
   "axis":{"orient":"right","title":null,"zindex":0,"labelFontSize":10,"values":[2311.55,2317.7,2323.85,2330.0,2336.0,2342.15,2348.3,2354.45,2360.6,2366.75,2372.9,2378.9,2385.05,2391.2,2397.35,2403.5,2409.65,2415.8,2421.8,2427.95,2434.1,2440.25,2446.4,2452.55],
    "format":".2f","tickSize":3,"labelPadding":3,"labelAlign":"left","labelBaseline":"middle","labelOverlap":false,"labelFlush":false,"labelBound":false}},
  "y2":{"field":"h"}}},
{"data":{"name":"candles"},
 "mark":{"type":"bar","width":2,"stroke":"#000000","strokeWidth":1},
 "encoding":{
  "x":{"field":"b","type":"quantitative","scale":{"domain":[-0.375,419.875],"nice":false,"zero":false},"axis":null},
  "y":{"field":"o","type":"quantitative","scale":{"domain":[2311.18,2457.0],"nice":false,"zero":false},"axis":null},
  "y2":{"field":"c"},
  "fill":{"condition":{"test":"datum.c < datum.o","value":"#000000"},"value":"#ffffff"}}},
{"data":{"name":"ma"},
 "mark":{"type":"line","strokeWidth":2,"interpolate":"monotone"},
 "encoding":{
  "x":{"field":"b","type":"quantitative","scale":{"domain":[-0.375,419.875],"nice":false,"zero":false},"axis":null},
  "y":{"field":"v","type":"quantitative","scale":{"domain":[2311.18,2457.0],"nice":false,"zero":false},"axis":null},
  "color":{"field":"s","type":"nominal","scale":{"domain":["k","r"],"range":["#000000","#ff0000"]},"legend":null}}},
{"data":{"values":[{"p":2360}]},
 "mark":{"type":"rule","stroke":"#00ff00","strokeWidth":6,"strokeCap":"round"},
 "encoding":{
  "x":{"datum":232.8,"type":"quantitative","scale":{"domain":[-0.375,419.875],"nice":false,"zero":false},"axis":null},
  "x2":{"datum":368.6},
  "y":{"field":"p","type":"quantitative","scale":{"domain":[2311.18,2457.0],"nice":false,"zero":false},"axis":null}}},
{"data":{"name":"arrows"},
 "mark":{"type":"rule","stroke":"#ff0000","strokeWidth":6.5,"strokeCap":"round"},
 "encoding":{
  "x":{"field":"x1","type":"quantitative","scale":{"domain":[-0.375,419.875],"nice":false,"zero":false},"axis":null},
  "x2":{"field":"x2"},
  "y":{"field":"y1","type":"quantitative","scale":{"domain":[2311.18,2457.0],"nice":false,"zero":false},"axis":null},
  "y2":{"field":"y2"}}},
{"data":{"values":[{"t":"黄金一小时图"}]},
 "mark":{"type":"text","font":"Noto Sans CJK SC","fontWeight":"bold","fontSize":32,"fill":"#dd0000","align":"center","baseline":"middle"},
 "encoding":{"text":{"field":"t"},
  "x":{"datum":263.1,"type":"quantitative","scale":{"domain":[-0.375,419.875],"nice":false,"zero":false},"axis":null},
  "y":{"datum":2427.13,"type":"quantitative","scale":{"domain":[2311.18,2457.0],"nice":false,"zero":false},"axis":null}}},
{"data":{"values":[{"t":"2360"}]},
 "mark":{"type":"text","font":"Liberation Sans","fontWeight":"bold","fontSize":32,"fill":"#00ff00","stroke":"#1f7a1f","strokeWidth":0.7,"align":"left","baseline":"middle"},
 "encoding":{"text":{"field":"t"},
  "x":{"datum":371.1,"type":"quantitative","scale":{"domain":[-0.375,419.875],"nice":false,"zero":false},"axis":null},
  "y":{"datum":2360,"type":"quantitative","scale":{"domain":[2311.18,2457.0],"nice":false,"zero":false},"axis":null}}},
{"data":{"values":[{"t":"XAUUSD_,H1\u00a0\u00a02360.92 2361.81 2359.03 2359.88"}]},
 "mark":{"type":"text","font":"Liberation Sans","fontSize":9,"fill":"#000000","align":"left","baseline":"middle"},
 "encoding":{"text":{"field":"t"},
  "x":{"datum":3.625,"type":"quantitative","scale":{"domain":[-0.375,419.875],"nice":false,"zero":false},"axis":null},
  "y":{"datum":2455.33,"type":"quantitative","scale":{"domain":[2311.18,2457.0],"nice":false,"zero":false},"axis":null}}},
{"data":{"values":[{"t":"▼"}]},
 "mark":{"type":"text","font":"DejaVu Sans","fontSize":7,"fill":"#000000","align":"center","baseline":"middle"},
 "encoding":{"text":{"field":"t"},
  "x":{"datum":1.25,"type":"quantitative","scale":{"domain":[-0.375,419.875],"nice":false,"zero":false},"axis":null},
  "y":{"datum":2455.33,"type":"quantitative","scale":{"domain":[2311.18,2457.0],"nice":false,"zero":false},"axis":null}}},
{"data":{"values":[{"t":"▼"}]},
 "mark":{"type":"text","font":"DejaVu Sans","fontSize":8,"fill":"#8796a8","align":"center","baseline":"middle"},
 "encoding":{"text":{"field":"t"},
  "x":{"datum":335.4,"type":"quantitative","scale":{"domain":[-0.375,419.875],"nice":false,"zero":false},"axis":null},
  "y":{"datum":2456.5,"type":"quantitative","scale":{"domain":[2311.18,2457.0],"nice":false,"zero":false},"axis":null}}},
{"data":{"values":[{"p":2359.88}]},
 "mark":{"type":"rect","fill":"#000000"},
 "encoding":{
  "x":{"datum":420.45,"type":"quantitative","scale":{"domain":[-0.375,419.875],"nice":false,"zero":false},"axis":null},
  "x2":{"datum":430.6},
  "y":{"datum":2360.81,"type":"quantitative","scale":{"domain":[2311.18,2457.0],"nice":false,"zero":false},"axis":null},
  "y2":{"datum":2358.86}}},
{"data":{"values":[{"t":"2359.88"}]},
 "mark":{"type":"text","font":"Liberation Sans","fontSize":10,"fill":"#ffffff","align":"left","baseline":"middle"},
 "encoding":{"text":{"field":"t"},
  "x":{"datum":421.1,"type":"quantitative","scale":{"domain":[-0.375,419.875],"nice":false,"zero":false},"axis":null},
  "y":{"datum":2359.88,"type":"quantitative","scale":{"domain":[2311.18,2457.0],"nice":false,"zero":false},"axis":null}}}
]
}
